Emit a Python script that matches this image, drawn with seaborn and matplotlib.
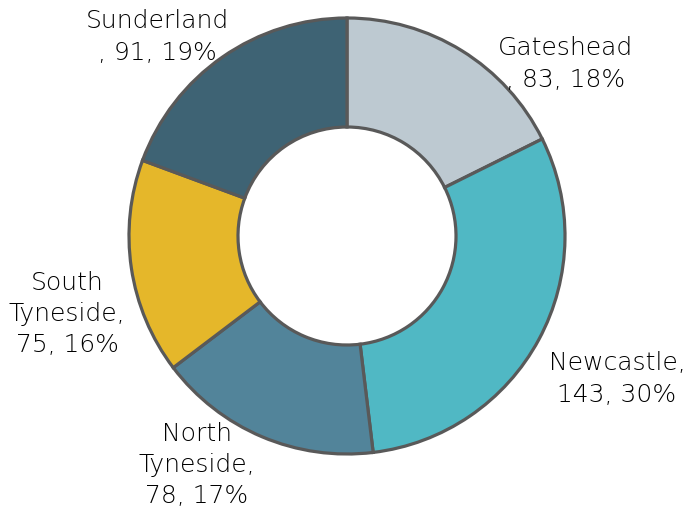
import matplotlib
matplotlib.use("Agg")
import matplotlib.pyplot as plt
import seaborn as sns

# Counts by local authority, clockwise from the top
areas = ["Gateshead", "Newcastle", "North Tyneside", "South Tyneside", "Sunderland"]
counts = [83, 143, 78, 75, 91]
colors = ["#BDC9D1", "#50B8C4", "#52849A", "#E5B72A", "#3E6374"]

sns.set_theme(style="white")
plt.rcParams["font.family"] = ["DejaVu Sans"]

W, H = 691, 510
fig = plt.figure(figsize=(W / 100, H / 100), dpi=100)
ax = fig.add_axes([0, 0, 1, 1])

cx, cy, R = 347, H - 237, 218
ax.pie(counts, colors=colors, startangle=90, counterclock=False,
       center=(cx, cy), radius=R,
       wedgeprops=dict(width=R * 0.5, edgecolor="#595959", linewidth=2.3))

total = sum(counts)
pct = {a: round(100 * c / total) for a, c in zip(areas, counts)}
val = dict(zip(areas, counts))

labels = {
    "Gateshead": (f"Gateshead\n, {val['Gateshead']}, {pct['Gateshead']}%", 566, 64),
    "Newcastle": (f"Newcastle,\n{val['Newcastle']}, {pct['Newcastle']}%", 617, 379),
    "North Tyneside": (f"North\nTyneside,\n{val['North Tyneside']}, {pct['North Tyneside']}%", 197, 465),
    "South Tyneside": (f"South\nTyneside,\n{val['South Tyneside']}, {pct['South Tyneside']}%", 67, 314),
    "Sunderland": (f"Sunderland\n, {val['Sunderland']}, {pct['Sunderland']}%", 157, 37),
}
for text, x, y in labels.values():
    ax.text(x, H - y, text, ha="center", va="center", fontsize=18,
            color="black", linespacing=1.38, fontweight="light")

ax.set_xlim(0, W)
ax.set_ylim(0, H)
ax.set_aspect("equal")
ax.axis("off")
fig.savefig("out.png", dpi=100)
